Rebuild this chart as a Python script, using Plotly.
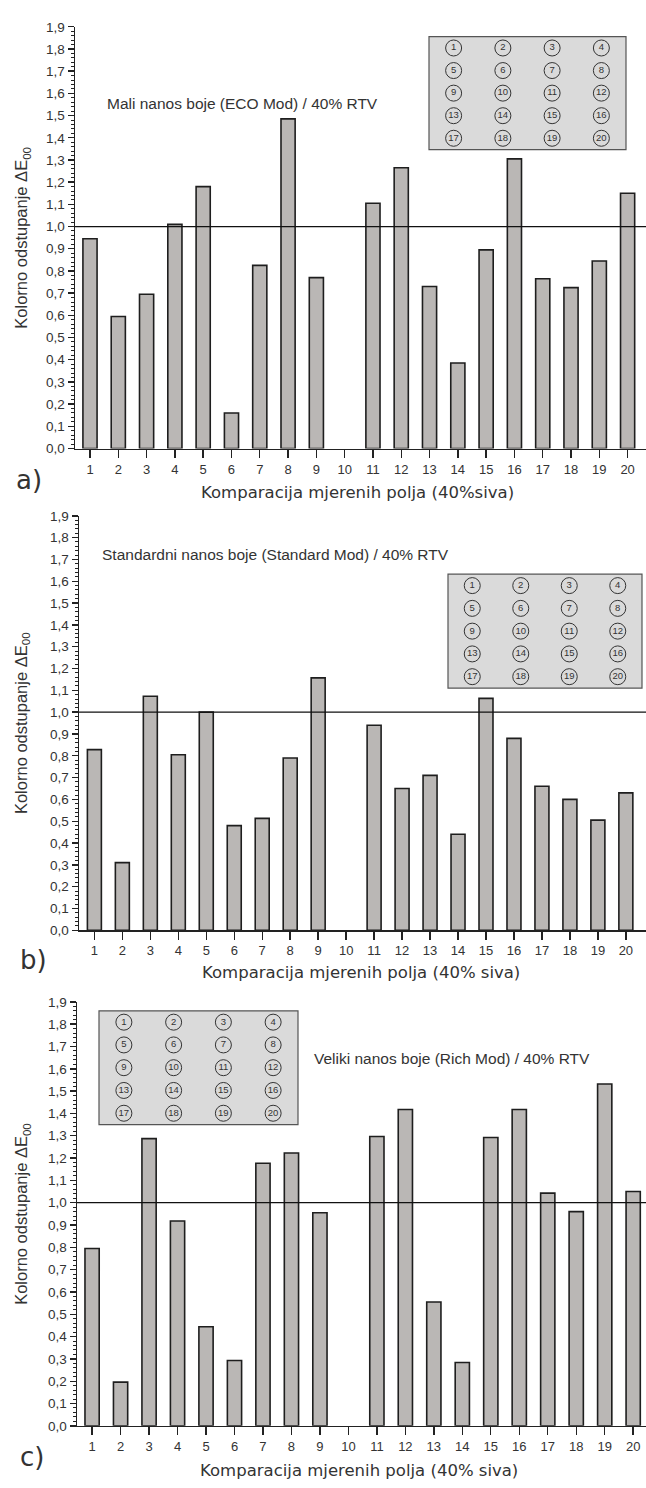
import plotly.graph_objects as go

W, H = 646, 1488

categories = list(range(1, 21))
vals_a = [0.945, 0.595, 0.695, 1.01, 1.18, 0.16, 0.825, 1.485, 0.77, None,
          1.105, 1.265, 0.73, 0.385, 0.895, 1.305, 0.765, 0.725, 0.845, 1.15]
vals_b = [0.828, 0.31, 1.073, 0.805, 1.0, 0.48, 0.513, 0.79, 1.157, None,
          0.94, 0.65, 0.71, 0.44, 1.063, 0.88, 0.66, 0.60, 0.505, 0.63]
vals_c = [0.795, 0.196, 1.287, 0.918, 0.444, 0.293, 1.177, 1.223, 0.955, None,
          1.297, 1.418, 0.555, 0.284, 1.292, 1.418, 1.043, 0.96, 1.532, 1.05]
y_ticks = [round(0.1 * i, 1) for i in range(20)]
inset_numbers = list(range(1, 21))

titles = ["Mali nanos boje (ECO Mod) / 40% RTV",
          "Standardni nanos boje (Standard Mod) / 40% RTV",
          "Veliki nanos boje (Rich Mod) / 40% RTV"]
xtitles = ["Komparacija mjerenih polja (40%siva)",
           "Komparacija mjerenih polja (40% siva)",
           "Komparacija mjerenih polja (40% siva)"]
letters = ["a)", "b)", "c)"]
ytitle = "Kolorno odstupanje ΔE<sub>00</sub>"

def px(x):
    return x / W

def py(y):
    return 1 - y / H

# panel geometry in pixels
panels = [
    dict(vals=vals_a, left=75, top=20, bottom=446, xr=[0.47, 20.65],
         inset=(429, 30, 626, 144), title=(105, 97), xt=(357, 490), let=(18, 478)),
    dict(vals=vals_b, left=79, top=514, bottom=932.7, xr=[0.45, 20.72],
         inset=(448, 573, 642, 688), title=(100, 553), xt=(361, 975), let=(22, 963)),
    dict(vals=vals_c, left=77, top=1005, bottom=1433.3, xr=[0.47, 20.45],
         inset=(99, 1014, 298, 1129), title=(312, 1062), xt=(359, 1478), let=(22, 1465)),
]

fig = go.Figure()
layout = dict(
    width=W, height=H, margin=dict(l=0, r=0, t=0, b=0),
    paper_bgcolor="white", plot_bgcolor="rgba(0,0,0,0)",
    showlegend=False, separators=",.",
    font=dict(family="Liberation Sans, Arial", color="#333333"),
)
annotations = []
shapes = []

col_of = [(n - 1) % 4 + 1 for n in inset_numbers]
row_of = [(n - 1) // 4 + 1 for n in inset_numbers]

for i, p in enumerate(panels):
    k = 2 * i + 1  # bar axes index
    m = 2 * i + 2  # inset axes index
    xa = "x" if k == 1 else f"x{k}"
    ya = "y" if k == 1 else f"y{k}"
    fig.add_trace(go.Bar(
        x=categories, y=p["vals"], width=0.5,
        marker=dict(color="#bab7b5", line=dict(color="#1e1e1e", width=1.6)),
        xaxis=xa, yaxis=ya,
    ))
    layout["xaxis" if k == 1 else f"xaxis{k}"] = dict(
        domain=[px(p["left"]), 1.0], range=p["xr"], anchor=ya,
        tickmode="array", tickvals=categories, ticktext=[str(c) for c in categories],
        ticks="outside", ticklen=8, tickwidth=1.4, tickcolor="#222",
        showline=True, linecolor="#222", linewidth=1.4,
        showgrid=False, zeroline=False,
        tickfont=dict(size=13, color="#333"),
    )
    layout["yaxis" if k == 1 else f"yaxis{k}"] = dict(
        domain=[py(p["bottom"]), py(p["top"])], range=[0, 1.9], anchor=xa,
        tickmode="array", tickvals=y_ticks, tickformat=".1f",
        ticks="outside", ticklen=6, tickwidth=1.4, tickcolor="#222",
        minor=dict(dtick=0.02, ticks="outside", ticklen=3, tickcolor="#222", tickwidth=1),
        showline=True, linecolor="#222", linewidth=1.4,
        showgrid=False, zeroline=False,
        tickfont=dict(size=13.5, color="#333"),
    )
    # reference line at 1.0
    shapes.append(dict(type="line", xref=f"{xa} domain", yref=ya,
                       x0=0, x1=1, y0=1.0, y1=1.0,
                       line=dict(color="#111", width=1.3)))

    # inset legend grid
    x0, y0, x1, y1 = p["inset"]
    fig.add_trace(go.Scatter(
        x=col_of, y=row_of, mode="markers+text",
        text=[str(n) for n in inset_numbers], textposition="middle center",
        textfont=dict(size=9.5, color="#333", family="Liberation Sans, Arial"),
        marker=dict(symbol="circle-open", size=16, color="#333", line=dict(width=1, color="#333")),
        xaxis=f"x{m}", yaxis=f"y{m}", hoverinfo="skip",
    ))
    layout[f"xaxis{m}"] = dict(domain=[px(x0), px(x1)], range=[0.5, 4.5], anchor=f"y{m}",
                              visible=False, fixedrange=True)
    layout[f"yaxis{m}"] = dict(domain=[py(y1), py(y0)], range=[5.5, 0.5], anchor=f"x{m}",
                              visible=False, fixedrange=True)
    shapes.append(dict(type="rect", xref=f"x{m} domain", yref=f"y{m} domain",
                       x0=0, x1=1, y0=0, y1=1, layer="below",
                       fillcolor="#dadada", line=dict(color="#555", width=1.2)))

    # texts
    tx, ty = p["title"]
    annotations.append(dict(text=titles[i], x=px(tx), y=py(ty), xref="paper", yref="paper",
                            xanchor="left", yanchor="middle", showarrow=False,
                            font=dict(size=15.5, color="#333", family="Liberation Sans, Arial")))
    xx, xy = p["xt"]
    annotations.append(dict(text=xtitles[i], x=px(xx), y=py(xy), xref="paper", yref="paper",
                            xanchor="center", yanchor="middle", showarrow=False,
                            font=dict(size=16.5, color="#333", family="DejaVu Sans")))
    lx, ly = p["let"]
    annotations.append(dict(text=letters[i], x=px(lx - 4), y=py(ly), xref="paper", yref="paper",
                            xanchor="left", yanchor="middle", showarrow=False,
                            font=dict(size=26, color="#333", family="DejaVu Sans")))
    annotations.append(dict(text=ytitle, x=px(22), y=py((p["top"] + p["bottom"]) / 2),
                            xref="paper", yref="paper", textangle=-90,
                            xanchor="center", yanchor="middle", showarrow=False,
                            font=dict(size=16.5, color="#333", family="Liberation Sans, Arial")))

layout["annotations"] = annotations
layout["shapes"] = shapes
fig.update_layout(**layout)

page_fix = ("document.body.style.margin='0';document.body.style.padding='0';"
            "document.body.style.overflow='hidden';"
            "document.documentElement.style.overflow='hidden';")
fig.write_html("out.html", post_script=page_fix,
               config={"displayModeBar": False, "staticPlot": True})
